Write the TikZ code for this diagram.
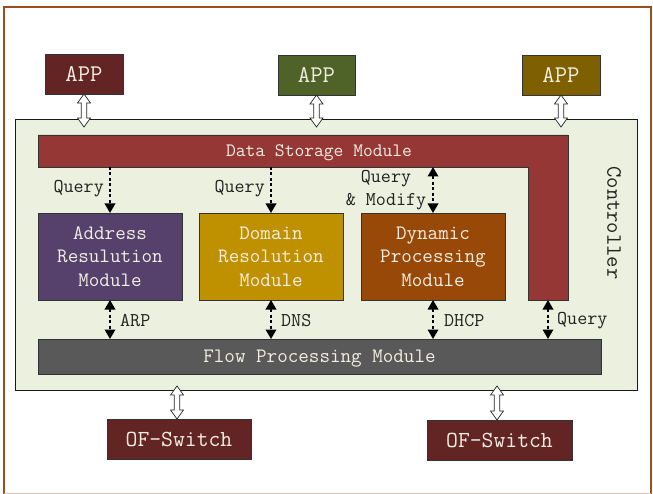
\documentclass[tikz,border=0pt]{standalone}
\usetikzlibrary{arrows.meta,calc}
\definecolor{framec}{HTML}{9C4F1C}
\definecolor{ctrlc}{HTML}{EBF1DE}
\definecolor{appA}{HTML}{632523}
\definecolor{appB}{HTML}{4F6228}
\definecolor{appC}{HTML}{7F6000}
\definecolor{dsmc}{HTML}{953735}
\definecolor{armc}{HTML}{55416B}
\definecolor{drmc}{HTML}{BF9000}
\definecolor{dpmc}{HTML}{984807}
\definecolor{flowc}{HTML}{595959}
\definecolor{swc}{HTML}{632523}
\definecolor{boxtext}{HTML}{F2EEE4}
\definecolor{lblc}{HTML}{222222}
\tikzset{
  box/.style={draw=black!80, line width=0.8pt, anchor=north west, inner sep=0pt, outer sep=0pt, text=boxtext, align=center},
  ghost/.style={anchor=north west, inner sep=0pt, outer sep=0pt},
  apptext/.style={font=\ttfamily\fontsize{24}{26}\selectfont},
  swtext/.style={font=\ttfamily\fontsize{23}{26}\selectfont},
  modtext/.style={font=\ttfamily\fontsize{20.5}{23.5}\selectfont},
  dsmtext/.style={font=\ttfamily\fontsize{19}{22}\selectfont, text=boxtext, inner sep=0pt},
  lbl/.style={font=\ttfamily\fontsize{19.5}{23}\selectfont, text=lblc, inner sep=0pt, align=center},
  qarr/.style={line width=1.8pt, dash pattern=on 3pt off 2.5pt, -{Triangle[width=10.5pt,length=9.5pt]}},
  qdarr/.style={line width=1.8pt, dash pattern=on 3pt off 2.5pt, {Triangle[width=10.5pt,length=9.5pt]}-{Triangle[width=10.5pt,length=9.5pt]}},
  hollow/.style={draw=black!85, fill=white, line width=0.7pt, line join=miter},
}
\newcommand\hollowarr[2]{%
  \draw[hollow] (#1) -- ($(#1)+(-6.5,9)$) -- ($(#1)+(-2.8,9)$) -- ($(#2)+(-2.8,-9)$) -- ($(#2)+(-6.5,-9)$) -- (#2) -- ($(#2)+(6.5,-9)$) -- ($(#2)+(2.8,-9)$) -- ($(#1)+(2.8,9)$) -- ($(#1)+(6.5,9)$) -- cycle;}
\begin{document}
\begin{tikzpicture}[x=1pt,y=-1pt]
\useasboundingbox (0,0) rectangle (653,494);
\fill[white] (0,0) rectangle (653,494);
% outer frame
\draw[framec, line width=2pt] (4,494) -- (4,7) -- (651,7) -- (651,494);
\draw[framec!35, line width=1pt] (4,493.5) -- (651,493.5);
% controller
\node[box, fill=ctrlc, draw=black!90, line width=1pt, minimum width=622pt, minimum height=270pt] (ctrl) at (15,120) {};
\node[lbl, rotate=-90, font=\ttfamily\fontsize{22}{24}\selectfont] (ctrltext) at (614,223) {Controller};
% apps
\node[box, fill=appA, apptext, minimum width=78pt, minimum height=40pt] (app1) at (45,54) {APP};
\node[box, fill=appB, apptext, minimum width=77pt, minimum height=40pt] (app2) at (278,55) {APP};
\node[box, fill=appC, apptext, minimum width=78pt, minimum height=40pt] (app3) at (522,55) {APP};
\coordinate (a1) at ($(app1.south)+(0,33)$);
\coordinate (a2) at ($(app2.south)+(0,32)$);
\coordinate (a3) at ($(app3.south)+(0,32)$);
\hollowarr{app1.south}{a1}
\hollowarr{app2.south}{a2}
\hollowarr{app3.south}{a3}
% data storage module (L shape)
\node[ghost, minimum width=530pt, minimum height=32pt] (dsm) at (38,135) {};
\node[ghost, minimum width=40pt, minimum height=165pt] (dsmv) at (528,135) {};
\draw[fill=dsmc, draw=black!80, line width=0.8pt] (dsm.north west) -- (dsmv.north east) -- (dsmv.south east) -- (dsmv.south west) -- (dsmv.south west |- dsm.south) -- (dsm.south west) -- cycle;
\node[dsmtext] (dsmt) at (319,153) {Data Storage Module};
% modules
\node[box, fill=armc, modtext, minimum width=144pt, minimum height=87pt] (arm) at (38,213) {Address\\Resulution\\Module};
\node[box, fill=drmc, modtext, minimum width=144pt, minimum height=87pt] (drm) at (199,213) {Domain\\Resolution\\Module};
\node[box, fill=dpmc, modtext, minimum width=144pt, minimum height=87pt] (dpm) at (361,213) {Dynamic\\Processing\\Module};
% flow processing
\node[box, fill=flowc, minimum width=563pt, minimum height=35pt] (flow) at (38,339) {};
\node[dsmtext, font=\ttfamily\fontsize{20.5}{23.5}\selectfont] (flowt) at ($(flow.center)+(0,2.5)$) {Flow Processing Module};
% switches
\node[box, fill=swc, swtext, minimum width=144pt, minimum height=40pt] (sw1) at (107,419) {OF-Switch};
\node[box, fill=swc, swtext, minimum width=145pt, minimum height=40pt] (sw2) at (427,420) {OF-Switch};
\coordinate (s1) at (177,386);
\coordinate (s2) at (497,386);
\hollowarr{s1}{s1 |- sw1.north}
\hollowarr{s2}{s2 |- sw2.north}
% query arrows
\draw[qarr] (arm.north |- dsm.south) -- (arm.north);
\draw[qarr] (drm.north |- dsm.south) -- (drm.north);
\draw[qdarr] (dpm.north |- dsm.south) -- (dpm.north);
\node[lbl, anchor=east] (q1) at (104,189) {Query};
\node[lbl, anchor=east] (q2) at (265,189) {Query};
\node[lbl] (qm) at (386,190) {Query\\\& Modify};
% protocol arrows
\draw[qdarr] (arm.south) -- (arm.south |- flow.north);
\draw[qdarr] (drm.south) -- (drm.south |- flow.north);
\draw[qdarr] (dpm.south) -- (dpm.south |- flow.north);
\draw[qdarr] (dsmv.south) -- (dsmv.south |- flow.north);
\node[lbl, anchor=west] (arp) at (120,321) {ARP};
\node[lbl, anchor=west] (dns) at (281,321) {DNS};
\node[lbl, anchor=west] (dhcp) at (444,321) {DHCP};
\node[lbl, anchor=west] (q3) at (557,321) {Query};
\end{tikzpicture}
\end{document}
